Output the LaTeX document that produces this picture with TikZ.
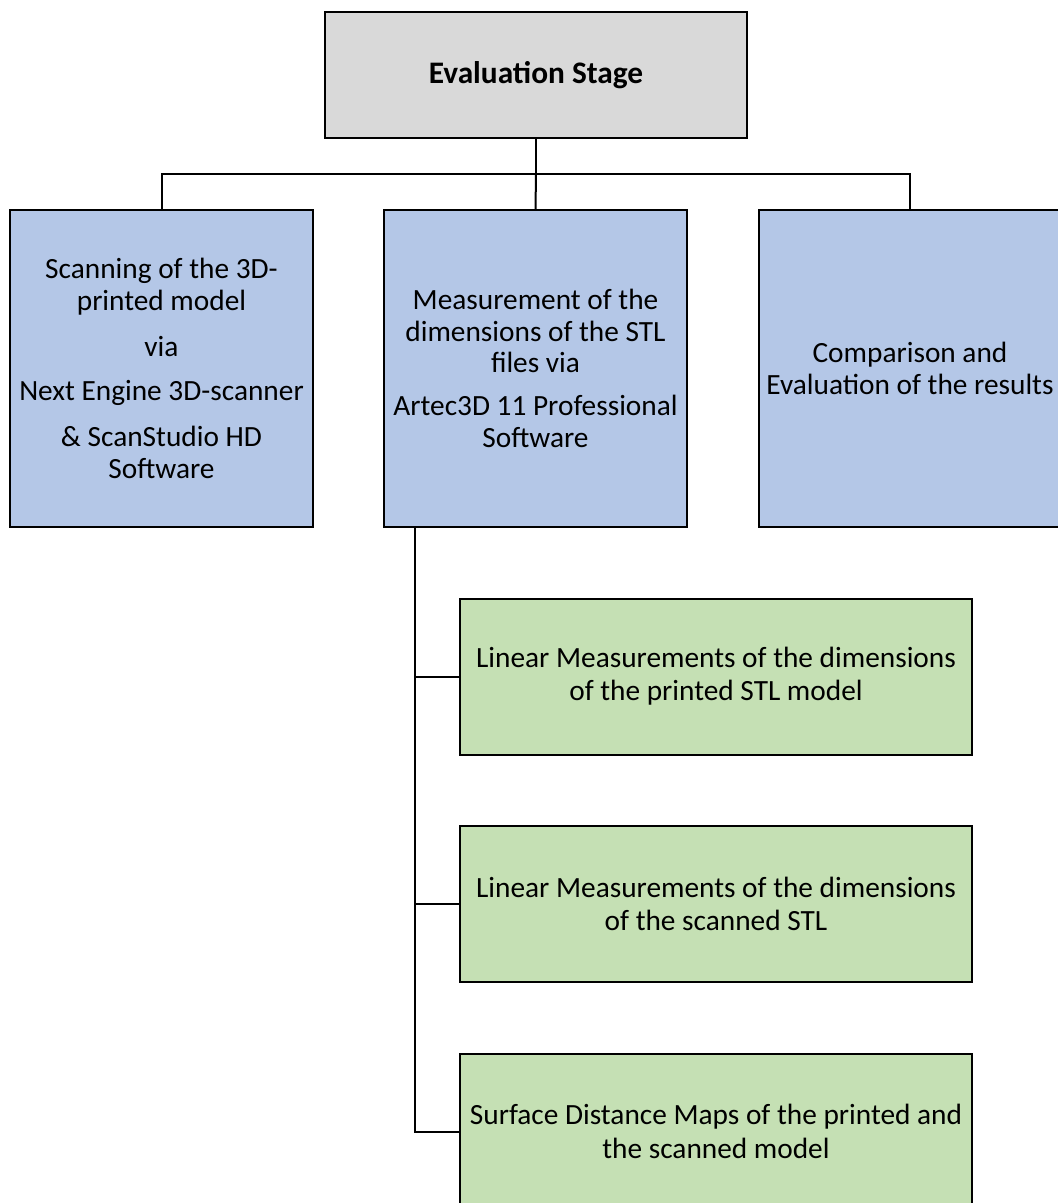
\documentclass[tikz,border=0pt]{standalone}
\usepackage{fontspec}
\setmainfont{Carlito}
\usepackage{tikz}
\usepackage{xcolor}

\definecolor{stagegray}{RGB}{217,217,217}
\definecolor{taskblue}{RGB}{180,199,231}
\definecolor{measgreen}{RGB}{197,224,180}

\tikzset{
  box/.style={draw=black, line width=1.5pt, inner sep=0pt, align=center,
    font=\fontsize{22}{23.5}\selectfont},
  stagebox/.style={box, fill=stagegray, minimum width=316.5pt, minimum height=94.5pt,
    font=\fontsize{23.5}{25}\selectfont\bfseries},
  taskbox/.style={box, fill=taskblue, minimum width=227.25pt, minimum height=237.75pt},
  measbox/.style={box, fill=measgreen, minimum width=384pt, minimum height=117pt,
    font=\fontsize{22}{25}\selectfont},
  link/.style={line width=1.5pt},
}

\begin{document}
\begin{tikzpicture}[x=0.75pt,y=0.75pt,yscale=-1,xscale=1]
    \useasboundingbox (0,0) rectangle (1057,1203);

    % top level
    \node [stagebox] (stage) at (536,75) {Evaluation Stage};

    % second level
    \node [taskbox] (scan) at (161.5,368.5) {Scanning of the 3D-\\printed model\\[11pt]via\\[10pt]Next Engine 3D-scanner\\[11pt]\& ScanStudio HD\\Software};
    \node [taskbox] (measure) at (535.5,368.5) {Measurement of the\\dimensions of the STL\\files via\\[9pt]Artec3D 11 Professional\\Software};
    \node [taskbox] (compare) at (910,368.5) {Comparison and\\Evaluation of the results};

    % measurements
    \node [measbox] (linear1) at (716,676.5) {Linear Measurements of the dimensions\\of the printed STL model};
    \node [measbox] (linear2) at (716,904) {Linear Measurements of the dimensions\\of the scanned STL};
    \node [measbox] (surface) at (716,1131.5) {Surface Distance Maps of the printed and\\the scanned model};

    % connectors
    \coordinate (bus) at (536,174);
    \coordinate (trunk) at (415,527);
    \draw [link] (stage.south) -- (bus);
    \draw [link] (scan.north) |- (bus) -| (compare.north);
    \draw [link] (bus) -- (measure.north);
    \draw [link] (trunk) |- (surface.west);
    \draw [link] (linear1.west) -- (trunk |- linear1.west);
    \draw [link] (linear2.west) -- (trunk |- linear2.west);

\end{tikzpicture}
\end{document}
